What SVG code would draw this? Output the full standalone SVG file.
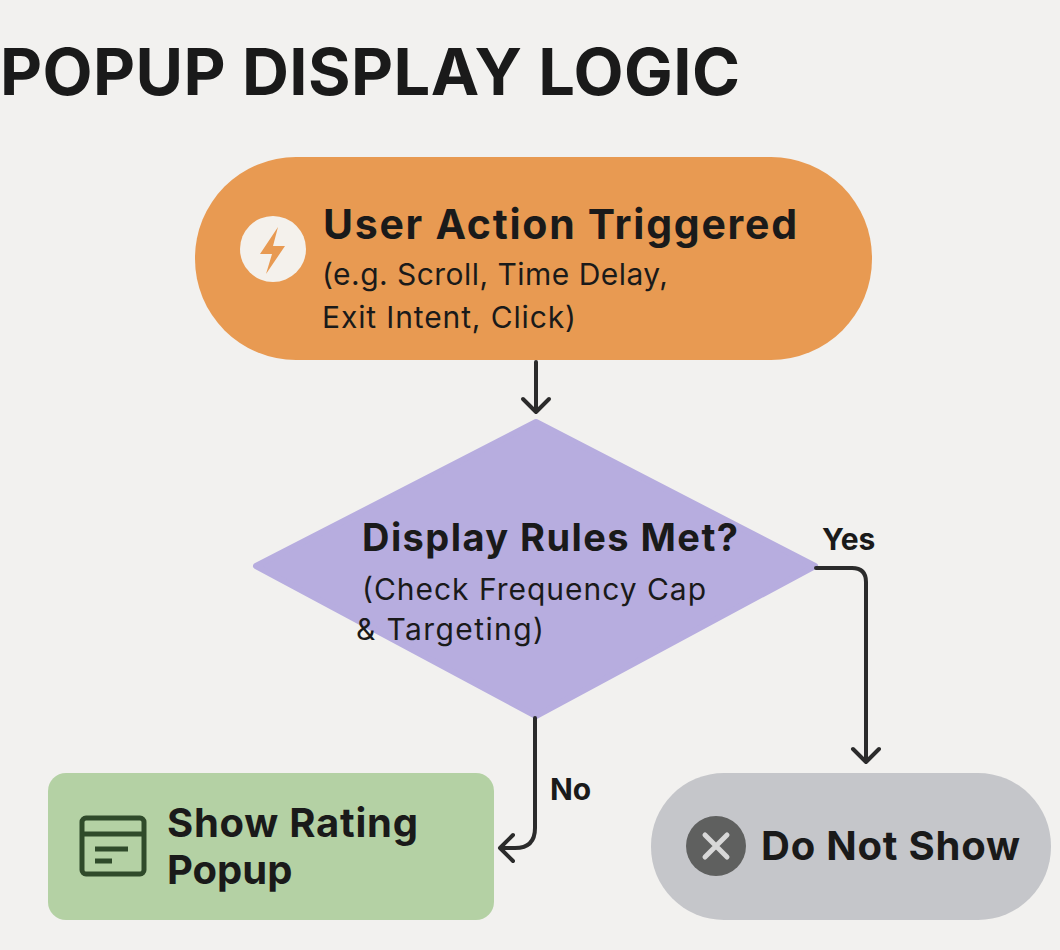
<svg xmlns="http://www.w3.org/2000/svg" width="1060" height="950" viewBox="0 0 1060 950">
<style>
text{font-family:"Inter","Liberation Sans",sans-serif;fill:#1a1a1a}
.t{font-weight:700;font-size:40px}
.s{font-size:30px}
.c{fill:none;stroke:#2b2b2b;stroke-width:4;stroke-linecap:round;stroke-linejoin:round}
</style>
<rect width="1060" height="950" fill="#f2f1ef"/>
<text x="0" y="95" style="font-weight:700;font-size:65px" textLength="740">POPUP DISPLAY LOGIC</text>
<g id="start">
<rect x="195" y="157" width="677" height="203" rx="101" fill="#e89a52"/>
<circle cx="273" cy="249" r="33" fill="#f4f1ec"/>
<path d="M278 227 L260 254 L272 254 L266 274 L285 246 L273 246 Z" fill="#e89a52"/>
<text x="323" y="239" class="t" style="font-size:41px" textLength="474">User Action Triggered</text>
<text x="322" y="285" class="s" textLength="346">(e.g. Scroll, Time Delay,</text>
<text x="322" y="328" class="s" textLength="254">Exit Intent, Click)</text>
</g>
<g id="decision">
<path d="M536 422 L815 566 L536 716 L256 566 Z" fill="#b7addf" stroke="#b7addf" stroke-width="6" stroke-linejoin="round"/>
<text x="362" y="551" class="t" style="font-size:38px" textLength="376">Display Rules Met?</text>
<text x="362" y="600" class="s" textLength="344">(Check Frequency Cap</text>
<text x="356" y="640" class="s" textLength="188">&amp; Targeting)</text>
</g>
<g id="show">
<rect x="48" y="773" width="446" height="147" rx="18" fill="#b4d1a4"/>
<rect x="82" y="818" width="62" height="56" rx="4" fill="none" stroke="#2f4a2a" stroke-width="5"/>
<line x1="84" y1="834" x2="142" y2="834" stroke="#2f4a2a" stroke-width="5"/>
<line x1="95" y1="849" x2="128" y2="849" stroke="#2f4a2a" stroke-width="5"/>
<line x1="95" y1="861" x2="112" y2="861" stroke="#2f4a2a" stroke-width="5"/>
<text x="167" y="837" class="t" textLength="251">Show Rating</text>
<text x="167" y="884" class="t">Popup</text>
</g>
<g id="noshow">
<rect x="651" y="773" width="400" height="147" rx="73" fill="#c5c6ca"/>
<circle cx="716" cy="846" r="30" fill="#5f605f"/>
<path d="M705 835 L727 857 M727 835 L705 857" stroke="#d8d8d8" stroke-width="5" stroke-linecap="round"/>
<text x="761" y="860" class="t" textLength="259">Do Not Show</text>
</g>
<g id="connectors">
<path class="c" d="M536 362 V412 M523 399 L536 412 L549 399"/>
<path class="c" d="M816 568 H852 Q866 568 866 582 V762 M853 749 L866 762 L879 749"/>
<path class="c" d="M535 718 V828 Q535 848 515 848 H502 M513 835 L500 848 L513 861"/>
<text x="822" y="550" style="font-weight:700;font-size:30px">Yes</text>
<text x="550" y="800" style="font-weight:700;font-size:30px">No</text>
</g>
</svg>
